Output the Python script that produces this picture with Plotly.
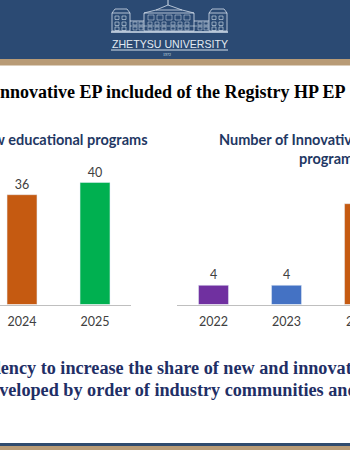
import plotly.graph_objects as go

left_years = ["2024", "2025"]
left_values = [36, 40]
left_colors = ["#C55A11", "#00B050"]
right_years = ["2022", "2023", "2024"]
right_values = [4, 4, 21]
right_colors = ["#7030A0", "#4472C4", "#C55A11"]

W, H = 350, 450
NAVY = "#2B4A73"
TAN = "#B89B76"
TEXT = "#1F2F66"
LOGO = "#D5E0EC"

def px(x): return x / W
def py(y): return 1 - y / H

fig = go.Figure()
fig.add_trace(go.Bar(x=left_years, y=left_values, marker_color=left_colors, width=0.41,
                     text=left_values, textposition="outside", cliponaxis=False,
                     textfont=dict(family="Lato", size=12.5, color="#404040"),
                     xaxis="x", yaxis="y", showlegend=False))
fig.add_trace(go.Bar(x=right_years, y=right_values, marker_color=right_colors, width=0.41,
                     text=right_values, textposition="outside", cliponaxis=True,
                     textfont=dict(family="Lato", size=12.5, color="#404040"),
                     xaxis="x2", yaxis="y2", showlegend=False))

shapes = []
def rect(x0, y0, x1, y1, fill=None, line=None, lw=1):
    shapes.append(dict(type="rect", xref="paper", yref="paper", x0=px(x0), x1=px(x1), y0=py(y0), y1=py(y1),
                       fillcolor=fill or "rgba(0,0,0,0)", line=dict(color=line or "rgba(0,0,0,0)", width=lw if line else 0)))
def seg(x0, y0, x1, y1, color=LOGO, lw=1):
    shapes.append(dict(type="line", xref="paper", yref="paper", x0=px(x0), x1=px(x1), y0=py(y0), y1=py(y1),
                       line=dict(color=color, width=lw)))

rect(0, 0, 350, 59, fill=NAVY)
rect(0, 59, 350, 65.5, fill=TAN)
rect(0, 443, 350, 446, fill="#2F4B6E")
rect(0, 446, 350, 450, fill=TAN)

# building emblem
seg(111, 32, 228, 32, lw=1.3)
for x0, x1 in [(112, 130), (209, 227)]:
    rect(x0, 13, x1, 31, line=LOGO, lw=0.8)
    seg(x0, 13, x0 + 3, 9, lw=0.8)
    seg(x0 + 3, 9, x1 - 3, 9, lw=0.8)
    seg(x1 - 3, 9, x1, 13, lw=0.8)
    for r in (16, 22, 27):
        for c in (x0 + 3, x0 + 10):
            rect(c, r, c + 4, r + 3.5, line=LOGO, lw=0.6)
seg(130, 21, 144, 21, lw=0.8)
seg(194, 21, 209, 21, lw=0.8)
seg(130, 26, 209, 26, lw=0.6)
rect(144, 13, 194, 31, line=LOGO, lw=0.8)
seg(144, 13, 156, 10, lw=0.8)
seg(156, 10, 182, 10, lw=0.8)
seg(182, 10, 194, 13, lw=0.8)
seg(156, 10, 168, 5, lw=0.8)
seg(168, 5, 182, 10, lw=0.8)
seg(168, 5, 168, 0, lw=1)
for c in (133, 139, 148, 155, 162, 171, 178, 185, 198, 204):
    rect(c, 22, c + 4, 25, line=LOGO, lw=0.5)
    rect(c, 27, c + 4, 30, line=LOGO, lw=0.5)
for c in (148, 157, 166, 175, 184):
    rect(c, 15, c + 6, 20, line=LOGO, lw=0.5)
seg(111, 50, 228, 50, lw=1)

ann = []
def text(x, y, s, size, family, color, anchor="left", bold=False):
    ann.append(dict(xref="paper", yref="paper", x=px(x), y=py(y), text=f"<b>{s}</b>" if bold else s,
                    showarrow=False, xanchor=anchor, yanchor="middle",
                    font=dict(family=family, size=size, color=color)))

text(169.5, 43.5, "ZHETYSU UNIVERSITY", 10.6, "Liberation Sans", "#E3EAF2", "center")
text(167, 54, "1972", 4, "Liberation Serif", LOGO, "center")
text(348, 92, "Innovative EP included of the Registry HP EP", 18, "Liberation Serif", "#000000", "right", True)
text(149.5, 139, "Number of new educational programs", 14.5, "Lato", "#1F3864", "right", True)
text(216.5, 139, "Number of Innovative educational", 14.5, "Lato", "#1F3864", "left", True)
text(297, 159, "programs", 14.5, "Lato", "#1F3864", "left", True)
text(360.5, 321, "2024", 12.5, "Lato", "#404040", "center")
text(-40.5, 368, "Tendency to increase the share of new and innovative", 18.2, "Liberation Serif", TEXT, "left", True)
text(-21, 390, "developed by order of industry communities and", 18.2, "Liberation Serif", TEXT, "left", True)

def xax(domain, rng):
    return dict(domain=domain, range=rng, type="category", showgrid=False, zeroline=False,
                showline=True, linecolor="#BFBFBF", linewidth=1, ticks="", ticklabelstandoff=5,
                tickfont=dict(family="Lato", size=12.5, color="#404040"))
def yax(domain, rng, anchor):
    return dict(domain=domain, range=rng, visible=False, anchor=anchor)

ydom = [py(304.5), py(150)]
fig.update_layout(
    width=W, height=H, margin=dict(l=0, r=0, t=0, b=0), autosize=False,
    paper_bgcolor="white", plot_bgcolor="white", barmode="overlay", showlegend=False,
    shapes=shapes, annotations=ann,
    xaxis={**xax([0, px(131)], [-22 / 73, 109 / 73]), "anchor": "y"},
    yaxis=yax(ydom, [0, 154.5 / 3.05], "x"),
    xaxis2={**xax([px(177), 1], [-36.5 / 73, 136.5 / 73]), "anchor": "y2"},
    yaxis2=yax(ydom, [0, 154.5 / 4.8], "x2"),
)
fig.write_html("out.html", config=dict(displayModeBar=False),
               post_script="document.body.style.margin='0';document.body.style.overflow='hidden';")
